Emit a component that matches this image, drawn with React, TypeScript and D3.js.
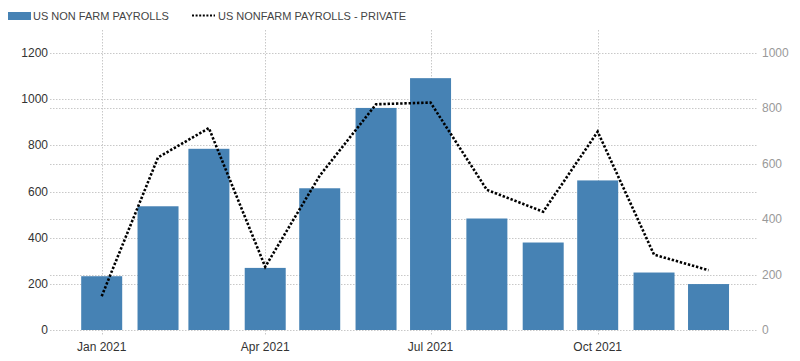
import * as d3 from "d3";

// monthly values, thousands of jobs
const months = [
  "2021-01", "2021-02", "2021-03", "2021-04", "2021-05", "2021-06",
  "2021-07", "2021-08", "2021-09", "2021-10", "2021-11", "2021-12",
];
const payrolls = [233, 536, 785, 269, 614, 962, 1091, 483, 379, 648, 249, 199];
const privatePayrolls = [122, 623, 729, 228, 557, 815, 821, 506, 427, 716, 272, 216];

const leftTicks = [0, 200, 400, 600, 800, 1000, 1200];
const rightTicks = [0, 200, 400, 600, 800, 1000];
const xTicks = ["2021-01", "2021-04", "2021-07", "2021-10"];

const seriesNames = ["US NON FARM PAYROLLS", "US NONFARM PAYROLLS - PRIVATE"];

const width = 800;
const height = 361;

// plot box, in pixels
const plot = { left: 50, right: 758, top: 30, bottom: 330 };

const barColor = "#4682b4";
const gridColor = "#c8c8c8";
const font = "'Liberation Sans', Arial, sans-serif";

const parse = d3.timeParse("%Y-%m");

export default function App() {
  const x = d3
    .scaleTime()
    .domain([parse("2021-01")!, parse("2021-10")!])
    .range([101.7, 597.7]);
  const yLeft = d3.scaleLinear([0, 1200], [plot.bottom, 53]);
  const yRight = d3.scaleLinear([0, 1000], [plot.bottom, 53]);
  const barWidth = 41;

  const line = d3
    .line<number>()
    .x((_, i) => x(parse(months[i])!))
    .y((d) => yRight(d));

  const fmt = d3.timeFormat("%b %Y");

  return (
    <svg
      width={width}
      height={height}
      style={{ position: "absolute", left: 0, top: 0, background: "#fff" }}
      fontFamily={font}
    >
      {/* legend */}
      <rect x={8} y={12} width={23} height={8} fill={barColor} />
      <text x={33} y={20} fontSize={11} fill="#444">
        {seriesNames[0]}
      </text>
      <line
        x1={192}
        x2={215}
        y1={15.5}
        y2={15.5}
        stroke="#000"
        strokeWidth={2}
        strokeDasharray="2 1.6"
      />
      <text x={218} y={20} fontSize={11} fill="#444">
        {seriesNames[1]}
      </text>

      {/* grid */}
      <g stroke={gridColor} strokeWidth={1} strokeDasharray="1.5 1.5">
        {leftTicks.map((t) => (
          <line
            key={"l" + t}
            x1={plot.left}
            x2={plot.right}
            y1={Math.round(yLeft(t)) + 0.5}
            y2={Math.round(yLeft(t)) + 0.5}
          />
        ))}
        {rightTicks
          .filter((t) => t !== 0 && t !== 1000)
          .map((t) => (
            <line
              key={"r" + t}
              x1={plot.left}
              x2={plot.right}
              y1={Math.round(yRight(t)) + 0.5}
              y2={Math.round(yRight(t)) + 0.5}
            />
          ))}
        {xTicks.map((m) => {
          const px = Math.round(x(parse(m)!)) + 0.5;
          return (
            <line key={"v" + m} x1={px} x2={px} y1={plot.top} y2={plot.bottom + 5} />
          );
        })}
      </g>

      {/* bars */}
      {payrolls.map((v, i) => {
        const cx = x(parse(months[i])!);
        return (
          <rect
            key={i}
            x={cx - barWidth / 2}
            y={yLeft(v)}
            width={barWidth}
            height={yLeft(0) - yLeft(v)}
            fill={barColor}
          />
        );
      })}

      {/* private payrolls line */}
      <path
        d={line(privatePayrolls) ?? ""}
        fill="none"
        stroke="#000"
        strokeWidth={2.6}
        strokeDasharray="2.4 1.8"
      />

      {/* left axis */}
      <g fontSize={12} fill="#333" textAnchor="end">
        {leftTicks.map((t) => (
          <text key={t} x={48} y={yLeft(t) + 4}>
            {t}
          </text>
        ))}
      </g>

      {/* right axis */}
      <g fontSize={12} fill="#999" textAnchor="start">
        {rightTicks.map((t) => (
          <text key={t} x={762} y={yRight(t) + 4}>
            {t}
          </text>
        ))}
      </g>

      {/* bottom axis */}
      <g fontSize={12} fill="#333" textAnchor="middle">
        {xTicks.map((m) => (
          <text key={m} x={x(parse(m)!)} y={351}>
            {fmt(parse(m)!)}
          </text>
        ))}
      </g>
    </svg>
  );
}
